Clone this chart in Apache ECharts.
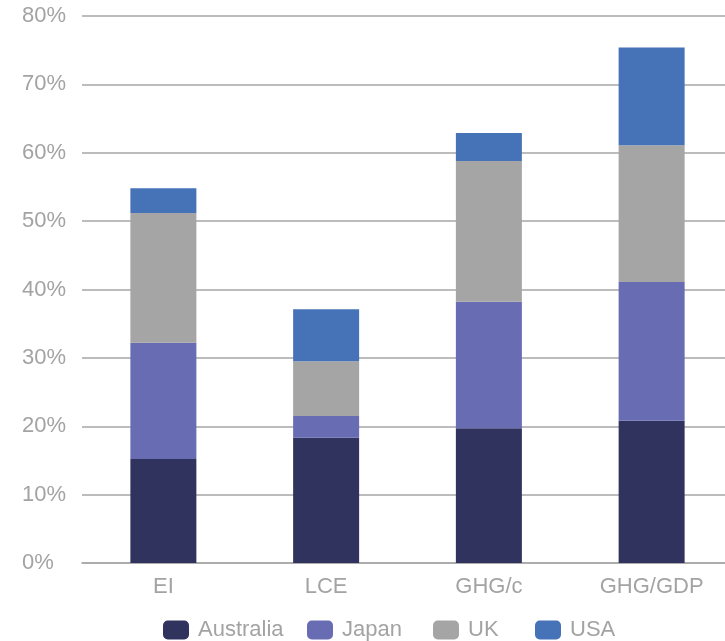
<!DOCTYPE html>
<html><head><meta charset="utf-8">
<script src="https://cdn.jsdelivr.net/npm/echarts@6/dist/echarts.min.js"></script>
<style>html,body{margin:0;padding:0;background:#fff}#c{width:725px;height:641px}</style>
</head><body><div id="c"></div>
<script>
const categories = ['EI', 'LCE', 'GHG/c', 'GHG/GDP'];
const australia = [15.2, 18.3, 19.7, 20.8];
const japan = [17.0, 3.2, 18.5, 20.3];
const uk = [19.0, 8.0, 20.6, 20.0];
const usa = [3.6, 7.6, 4.1, 14.3];
const seriesNames = ['Australia', 'Japan', 'UK', 'USA'];
const colors = ['#31335f', '#676cb3', '#a5a5a5', '#4672b7'];
const dataSets = [australia, japan, uk, usa];
const legendLefts = [163, 307, 433, 535];

const textColor = '#a3a3a3';
const font = 'Liberation Sans';
const chart = echarts.init(document.getElementById('c'));
chart.setOption({
  animation: false,
  textStyle: { fontFamily: font },
  grid: { left: 82, width: 651, top: 16, bottom: 78, outerBoundsMode: 'none', containLabel: false },
  xAxis: {
    type: 'category', data: categories,
    axisLine: { show: true, lineStyle: { color: '#a6a6a6', width: 1.5 } },
    axisTick: { show: false },
    axisLabel: { color: textColor, fontSize: 22, margin: 13, fontFamily: font }
  },
  yAxis: {
    type: 'value', min: 0, max: 80, interval: 10,
    axisLine: { show: false }, axisTick: { show: false },
    splitLine: { lineStyle: { color: '#a6a6a6', width: 1.5 } },
    axisLabel: { color: textColor, fontSize: 22, margin: 60, align: 'left', fontFamily: font, formatter: '{value}%' }
  },
  legend: seriesNames.map((n, i) => ({
    data: [n], left: legendLefts[i], top: 619, itemWidth: 26, itemHeight: 19, itemGap: 0,
    itemStyle: { borderWidth: 0 },
    textStyle: { color: textColor, fontSize: 22, fontFamily: font, padding: [0, 0, 0, 4] },
    padding: 0
  })),
  series: seriesNames.map((n, i) => ({
    name: n, type: 'bar', stack: 'total', data: dataSets[i], barWidth: 66,
    itemStyle: { color: colors[i] }
  }))
});
</script></body></html>
